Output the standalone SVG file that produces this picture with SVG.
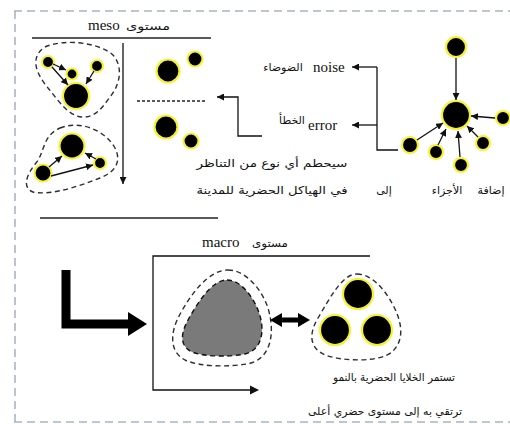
<svg xmlns="http://www.w3.org/2000/svg" width="510" height="424" viewBox="0 0 510 424">
  <style>
    .frame { fill: none; stroke: #a9b4c4; stroke-width: 1.6; stroke-dasharray: 8 5; }
    .rule { fill: none; stroke: #222; stroke-width: 1.3; }
    .link { fill: none; stroke: #111; stroke-width: 1.3; }
    .arrow { fill: none; stroke: #111; stroke-width: 1.3; marker-end: url(#head); }
    .cell { fill: #000; stroke: #f6f230; stroke-width: 2.2; }
    .hull { fill: none; stroke: #2b2b3a; stroke-width: 1.4; stroke-dasharray: 5 3.5; }
    .lat { font-family: "Liberation Serif", serif; font-size: 15px; fill: #111; }
    .ar { font-family: "DejaVu Sans", sans-serif; font-size: 11px; fill: #111; text-anchor: middle; }
  </style>
  <defs>
    <marker id="head" viewBox="0 0 10 10" refX="10" refY="5" markerWidth="7" markerHeight="7" markerUnits="userSpaceOnUse" orient="auto">
      <path d="M0,0 L10,5 L0,10 Z" fill="#111"/>
    </marker>
  </defs>

  <rect width="510" height="424" fill="#fff"/>

  <!-- page frame -->
  <g id="frame">
    <line class="frame" x1="14" y1="11" x2="510" y2="11"/>
    <line class="frame" x1="14" y1="422" x2="510" y2="422"/>
    <line class="frame" x1="15" y1="11" x2="15" y2="422" stroke="#8ea6c8"/>
  </g>

  <!-- meso heading -->
  <g id="meso-title">
    <text class="lat" x="88" y="30">meso</text>
    <text class="ar" x="148" y="30" font-size="12" textLength="44" lengthAdjust="spacingAndGlyphs">مستوى</text>
    <line class="rule" x1="32" y1="38" x2="211" y2="38"/>
  </g>

  <!-- upper meso cluster -->
  <g id="cluster-upper">
    <path class="hull" d="M45,47 C65,38 100,43 113,55 C122,65 122,82 110,97 C102,108 95,118 82,117 C68,116 58,100 48,88 C38,76 28,58 45,47 Z"/>
    <circle class="cell" cx="48" cy="62" r="6"/>
    <circle class="cell" cx="72" cy="74" r="5.5"/>
    <circle class="cell" cx="97" cy="66" r="6"/>
    <circle class="cell" cx="76" cy="96" r="13"/>
  </g>

  <!-- lower meso cluster -->
  <g id="cluster-lower">
    <path class="hull" d="M60,128 C80,120 105,130 115,148 C122,162 115,172 100,178 C80,186 50,196 33,192 C22,188 26,175 36,163 C45,152 42,136 60,128 Z"/>
    <circle class="cell" cx="72" cy="146" r="12.5"/>
    <circle class="cell" cx="43" cy="173" r="8.5"/>
    <circle class="cell" cx="100" cy="163" r="6"/>
  </g>

  <!-- separated pairs -->
  <g id="pair-upper">
    <circle class="cell" cx="168" cy="71" r="11.5"/>
    <circle class="cell" cx="195" cy="59" r="7.5"/>
  </g>
  <g id="pair-lower">
    <circle class="cell" cx="166" cy="127" r="11.5"/>
    <circle class="cell" cx="191" cy="141" r="7.5"/>
  </g>

  <!-- hub: parts added to the core -->
  <g id="hub">
    <circle class="cell" cx="456" cy="47" r="10"/>
    <circle class="cell" cx="456" cy="115" r="14"/>
    <circle class="cell" cx="503" cy="118" r="7"/>
    <circle class="cell" cx="410" cy="145" r="8"/>
    <circle class="cell" cx="436" cy="152" r="7"/>
    <circle class="cell" cx="461" cy="165" r="7"/>
    <circle class="cell" cx="483" cy="143" r="7"/>
  </g>

  <!-- labels -->
  <g id="label-noise">
    <text class="lat" x="313" y="72">noise</text>
    <text class="ar" x="283" y="71" font-family="DejaVu Serif, serif" font-size="10">الضوضاء</text>
  </g>
  <g id="label-error">
    <text class="lat" x="308" y="130">error</text>
    <text class="ar" x="292" y="124" font-family="DejaVu Serif, serif" font-size="9">الخطأ</text>
  </g>
  <g id="label-symmetry">
    <text class="ar" x="272" y="167" textLength="151" lengthAdjust="spacingAndGlyphs">سيحطم أي نوع من التناظر</text>
    <text class="ar" x="272" y="194" textLength="151" lengthAdjust="spacingAndGlyphs">في الهياكل الحضرية للمدينة</text>
  </g>
  <g id="label-adding">
    <text class="ar" x="384" y="194">إلى</text>
    <text class="ar" x="447" y="194">الأجزاء</text>
    <text class="ar" x="491" y="194">إضافة</text>
  </g>

  <!-- macro heading -->
  <g id="macro-title">
    <line class="rule" x1="40" y1="218" x2="218" y2="218"/>
    <text class="lat" x="202" y="247">macro</text>
    <text class="ar" x="270" y="247" font-size="12" textLength="36" lengthAdjust="spacingAndGlyphs">مستوى</text>
  </g>

  <!-- macro: merged urban mass -->
  <g id="mass">
    <path class="hull" d="M228,270 C246,270 262,290 268,308 C276,335 270,360 247,364 C228,367 200,367 185,360 C170,352 170,335 178,318 C190,295 208,270 228,270 Z"/>
    <path d="M227,280 C240,280 252,295 258,310 C266,330 262,350 245,354 C230,357 205,357 192,352 C180,346 180,335 188,320 C198,302 212,280 227,280 Z" fill="#7a7a7a" stroke="#111" stroke-width="1.4" stroke-dasharray="5 3.5"/>
  </g>

  <!-- macro: three cells -->
  <g id="triad">
    <path class="hull" d="M357,274 C372,274 385,290 393,305 C402,322 405,340 392,352 C380,362 345,362 325,355 C310,348 308,335 318,318 C330,298 342,274 357,274 Z"/>
    <circle class="cell" cx="358" cy="294" r="15"/>
    <circle class="cell" cx="335" cy="330" r="15"/>
    <circle class="cell" cx="377" cy="330" r="15"/>
  </g>

  <g id="label-growth">
    <text class="ar" x="394" y="381" textLength="122" lengthAdjust="spacingAndGlyphs">تستمر الخلايا الحضرية بالنمو</text>
    <text class="ar" x="385" y="415" textLength="154" lengthAdjust="spacingAndGlyphs">ترتقي به إلى مستوى حضري أعلى</text>
  </g>

  <!-- connectors -->
  <g id="connectors">
    <!-- meso axis -->
    <line class="arrow" x1="123" y1="43" x2="123" y2="184"/>
    <!-- upper cluster -->
    <line class="arrow" x1="53" y1="64" x2="66" y2="70"/>
    <line class="arrow" x1="52" y1="67" x2="68" y2="85"/>
    <line class="arrow" x1="94" y1="71" x2="86" y2="84"/>
    <!-- lower cluster -->
    <line class="arrow" x1="49" y1="167" x2="62" y2="156"/>
    <line class="arrow" x1="51" y1="176" x2="93" y2="165"/>
    <line class="arrow" x1="96" y1="159" x2="85" y2="153"/>
    <!-- symmetry break divider -->
    <line x1="137" y1="101" x2="207" y2="101" stroke="#222" stroke-width="1.3" stroke-dasharray="3 2"/>
    <polyline class="arrow" points="262,136 238,136 238,97 217,97"/>
    <!-- hub to noise / error -->
    <polyline class="link" points="398,150 377,150 377,67"/>
    <line class="arrow" x1="377" y1="67" x2="352" y2="67"/>
    <line class="arrow" x1="377" y1="125" x2="352" y2="125"/>
    <!-- hub spokes -->
    <line class="arrow" x1="456" y1="58" x2="456" y2="100"/>
    <line class="arrow" x1="495" y1="118" x2="471" y2="116"/>
    <line class="arrow" x1="417" y1="140" x2="443" y2="123"/>
    <line class="arrow" x1="438" y1="145" x2="446" y2="129"/>
    <line class="arrow" x1="460" y1="157" x2="458" y2="131"/>
    <line class="arrow" x1="478" y1="137" x2="467" y2="126"/>
    <!-- macro frame -->
    <polyline class="link" points="370,256 153,256 153,390 252,390"/>
    <path d="M250,385.5 L259,390 L250,394.5 Z" fill="#111"/>
    <!-- thick bent arrow into macro -->
    <polyline points="66,270 66,324 130,324" fill="none" stroke="#000" stroke-width="9"/>
    <path d="M128,312 L147,324 L128,336 Z" fill="#000"/>
    <!-- mass to cells exchange -->
    <path d="M270,320 L282,313 L282,317.5 L298,317.5 L298,313 L310,320 L298,327 L298,322.5 L282,322.5 L282,327 Z" fill="#000"/>
  </g>
</svg>
